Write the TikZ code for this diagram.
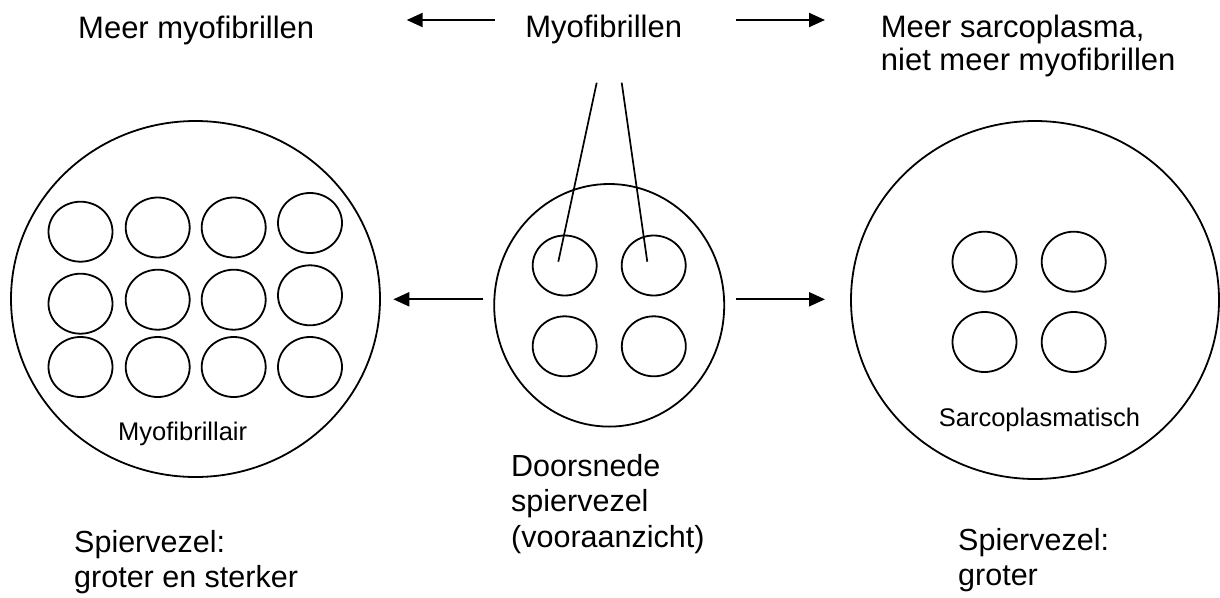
\documentclass[tikz,border=0pt]{standalone}
\usepackage{fontspec}
\setmainfont{Liberation Sans}
\usepackage{tikz}
\usetikzlibrary{arrows.meta,calc,positioning}

\begin{document}
\begin{tikzpicture}[x=1pt,y=-1pt,
    fibre/.style={line width=1.8pt},
    pijl/.style={-{Triangle[length=16pt,width=14pt]},line width=2.2pt},
    wijzer/.style={line width=1.7pt},
    kop/.style={inner sep=0pt,align=left,font=\fontsize{31}{32.7}\selectfont},
    onder/.style={inner sep=0pt,align=left,font=\fontsize{30.5}{35.5}\selectfont},
    klein/.style={inner sep=0pt,font=\fontsize{25.5}{28}\selectfont}]
    \useasboundingbox (0,0) rectangle (1220,597);
    % titels boven
    \node[kop,anchor=base west] (meermyo) at (78,38.3) {Meer myofibrillen};
    \node[kop,anchor=base] (myo) at (603.7,37.7) {Myofibrillen};
    \node[kop,anchor=north west] (meersarco) at (880.7,15) {Meer sarcoplasma,\\niet meer myofibrillen};
    \coordinate (tl1) at (495,20);    \coordinate (tl2) at (406.7,20);
    \coordinate (tr1) at (736,20);    \coordinate (tr2) at (825,20);
    \draw[pijl] (tl1) -- (tl2);
    \draw[pijl] (tr1) -- (tr2);
    % drie doorsneden
    \draw[fibre] (195.5,299) ellipse [x radius=184.5, y radius=178];
    \draw[fibre] (609.2,305.3) ellipse [x radius=115, y radius=121.3];
    \draw[fibre] (1035,300) ellipse [x radius=184, y radius=179];
    \foreach \p in {(80.5,231.7),(157.7,227.5),(233.7,227.5),(310,223),
                    (80.5,303.7),(157.7,299.7),(233.7,299.7),(310,295.3),
                    (80.5,367),(157.7,367),(233.7,367),(310,367)} {
      \draw[fibre] \p ellipse [x radius=32, y radius=30];
    }
    \foreach \p in {(564.7,265.5),(653.7,265.5),(564.7,346.3),(653.8,346.3)} {
      \draw[fibre] \p ellipse [x radius=32, y radius=30];
    }
    \foreach \p in {(984.5,261.7),(1073.7,261.7),(984.5,342),(1073.7,342)} {
      \draw[fibre] \p ellipse [x radius=32, y radius=30];
    }
    % wijzers naar de myofibrillen
    \coordinate (w1) at (596.7,82.7); \coordinate (v1) at (558.3,261.7);
    \coordinate (w2) at (621.7,82.7); \coordinate (v2) at (647.3,261.7);
    \draw[wijzer] (w1) -- (v1);
    \draw[wijzer] (w2) -- (v2);
    % pijlen opzij
    \coordinate (ml1) at (483.3,299.3); \coordinate (ml2) at (393.3,299.3);
    \coordinate (mr1) at (735.7,299.3); \coordinate (mr2) at (825,299.3);
    \draw[pijl] (ml1) -- (ml2);
    \draw[pijl] (mr1) -- (mr2);
    \node[klein,anchor=base] (myofib) at (182.7,440) {Myofibrillair};
    \node[klein,anchor=base] (sarco) at (1039.5,426) {Sarcoplasmatisch};
    % onderschriften
    \node[onder,anchor=north west] (vezell) at (74,529.7) {Spiervezel:\\groter en sterker};
    \node[onder,anchor=north west] (doorsnede) at (511,454) {Doorsnede\\spiervezel\\(vooraanzicht)};
    \node[onder,anchor=north west] (vezelr) at (958,528) {Spiervezel:\\groter};
\end{tikzpicture}
\end{document}
